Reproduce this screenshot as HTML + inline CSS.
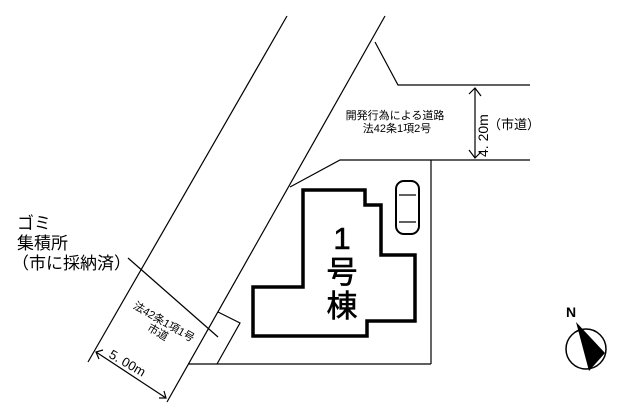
<html><body style="margin:0;background:#fff">
<svg width="625" height="409" viewBox="0 0 625 409" xmlns="http://www.w3.org/2000/svg" style="display:block;font-family:'Liberation Sans','Noto Sans CJK JP',sans-serif">
<g stroke="#000" stroke-width="1.2" fill="none">
<line x1="287" y1="16" x2="88" y2="362"/>
<line x1="385" y1="16" x2="167" y2="402"/>
<polyline points="375,42 398,85 530,85"/>
<polyline points="290,187 340,160 530,160"/>
<line x1="431" y1="160" x2="431" y2="364"/>
<line x1="188" y1="364" x2="431" y2="364"/>
<polyline points="128,258 218,337"/>
<polyline points="218,312 240,323 217,364"/>
<polygon points="303,190 365,190 365,205 381,205 381,255 415,255 415,321 367,321 367,336 253,336 253,287 303,287" stroke-width="3.5"/>
<rect x="396" y="181" width="23" height="53" rx="8" stroke-width="2"/>
<line x1="399" y1="195" x2="416" y2="195"/>
<line x1="399" y1="222" x2="416" y2="222"/>
<line x1="475" y1="88" x2="475" y2="158"/>
<polyline points="469,94 475,88 481,96"/>
<polyline points="469,150 475,158 481,152"/>
<line x1="96" y1="352" x2="166" y2="398"/>
<polyline points="103,350 96,352 99,359"/>
<polyline points="159,398 166,398 164,391"/>
<circle cx="586" cy="349" r="20" stroke-width="1.5"/>
</g>
<polygon points="576,322 589,371 605,353" fill="#000"/>
<text x="566" y="317" font-size="14" font-weight="bold">N</text>
<g font-size="11" text-anchor="middle">
<text x="395" y="119">開発行為による道路</text>
<text x="397" y="132">法42条1項2号</text>
</g>
<text x="488" y="129" font-size="13">（市道）</text>
<text x="0" y="0" font-size="14" transform="translate(488,157) rotate(-90)">4. 20m</text>
<g font-size="17">
<text x="17" y="229">ゴミ</text>
<text x="17" y="249">集積所</text>
<text x="12" y="269">（市に採納済）</text>
</g>
<g font-size="31" text-anchor="middle" stroke="#000" stroke-width="0.6">
<text x="342" y="249">1</text>
<text x="342" y="283">号</text>
<text x="342" y="317">棟</text>
</g>
<g font-size="11" text-anchor="middle" transform="translate(162,325) rotate(30)">
<text x="0" y="0">法42条1項1号</text>
<text x="0" y="12">市道</text>
</g>
<text font-size="13" transform="translate(108,357) rotate(30)">5. 00m</text>
</svg>
</body></html>
